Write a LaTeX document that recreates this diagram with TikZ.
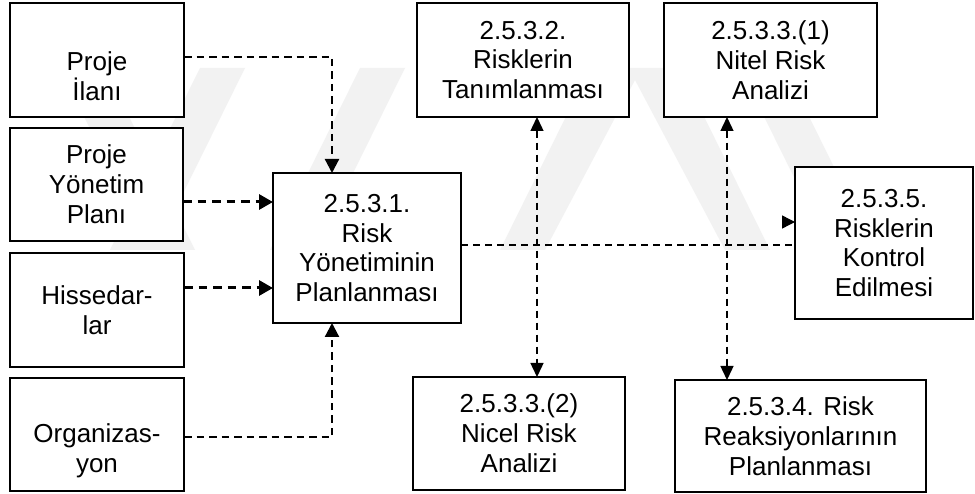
\documentclass[tikz,border=0pt]{standalone}
\usepackage{fontspec}
\setmainfont{Liberation Sans}
\usetikzlibrary{arrows.meta,calc}
\begin{document}
\begin{tikzpicture}[x=1pt,y=-1pt,
  box/.style={draw, fill=white, line width=1.6pt, inner sep=0pt, outer sep=0pt, align=center,
              font=\fontsize{26}{29.8}\selectfont},
  thickcon/.style={line width=2.2pt, dash pattern=on 7.5pt off 5pt, -{Triangle[length=14pt,width=14pt]}},
  heavycon/.style={line width=3pt, dash pattern=on 8.5pt off 6pt, -{Triangle[length=14pt,width=15pt]}},
  thincon/.style={line width=1.4pt, dash pattern=on 7pt off 5pt},
  dbl/.style={thincon, {Triangle[length=14pt,width=13pt]}-{Triangle[length=14pt,width=13pt]}},
  lonetip/.style={line width=1.4pt, -{Triangle[length=13pt,width=13pt]}},
  wmark/.style={fill=black!5, draw=none}
]
\useasboundingbox (0,0) rectangle (975,494);
\fill[white] (0,0) rectangle (975,494);

% faint watermark
\path[wmark] (60,68) -- (105,68) -- (195,250) -- (150,250) -- cycle;
\path[wmark] (200,68) -- (245,68) -- (155,250) -- (110,250) -- cycle;
\path[wmark] (360,68) -- (405,68) -- (315,250) -- (270,250) -- cycle;
\path[wmark] (590,68) -- (680,68) -- (770,250) -- (725,250) -- (635,80) -- (545,250) -- (500,250) -- cycle;
\path[wmark] (740,68) -- (785,68) -- (875,250) -- (830,250) -- cycle;

% boxes
\node[box, minimum width=174pt, minimum height=114pt] (ilan) at (97,60) {\strut\\Proje\\İlanı};
\node[box, minimum width=173pt, minimum height=113pt] (ypl) at (96.5,184.5) {Proje\\Yönetim\\Planı};
\node[box, minimum width=174pt, minimum height=114pt] (hiss) at (97,310) {Hissedar-\\lar};
\node[box, minimum width=174pt, minimum height=113pt] (org) at (97,434.5) {\strut\\Organizas-\\yon};
\node[box, minimum width=188pt, minimum height=150pt] (main) at (367,248) {2.5.3.1.\\Risk\\Yönetiminin\\Planlanması};
\node[box, minimum width=212pt, minimum height=114pt] (tanim) at (523,60) {2.5.3.2.\\Risklerin\\Tanımlanması};
\node[box, minimum width=212pt, minimum height=113pt] (nicel) at (519,433.5) {2.5.3.3.(2)\\Nicel Risk\\Analizi};
\node[box, minimum width=213pt, minimum height=114pt] (nitel) at (770.5,60) {2.5.3.3.(1)\\Nitel Risk\\Analizi};
\node[box, minimum width=178pt, minimum height=152pt] (kontrol) at (884,243) {2.5.3.5.\\Risklerin\\Kontrol\\Edilmesi};
\node[box, minimum width=251pt, minimum height=112pt] (reak) at (800.5,436) {2.5.3.4. Risk\\Reaksiyonlarının\\Planlanması};

% connectors from the inputs
\draw[thickcon] ([yshift=3pt]ilan.east) -| ([xshift=-35pt]main.north);
\path ([yshift=-17.5pt]ypl.east) coordinate (s2);
\draw[heavycon] (s2) -- (s2 -| main.west);
\path ([yshift=22pt]hiss.east) coordinate (s3);
\draw[heavycon] (s3) -- (s3 -| main.west);
\draw[thickcon] ([yshift=-2.5pt]org.east) -| ([xshift=-35pt]main.south);

% right part
\draw[thincon] ([yshift=3pt]main.east) -- ([yshift=-2pt]kontrol.west);
\draw[lonetip] ([yshift=21pt,xshift=-4pt]kontrol.west) -- ([yshift=21pt]kontrol.west);
\draw[dbl] ([xshift=14pt]tanim.south) -- ([xshift=18pt]nicel.north);
\draw[dbl] ([xshift=-43.5pt]nitel.south) -- ([xshift=-73.5pt]reak.north);
\end{tikzpicture}
\end{document}
